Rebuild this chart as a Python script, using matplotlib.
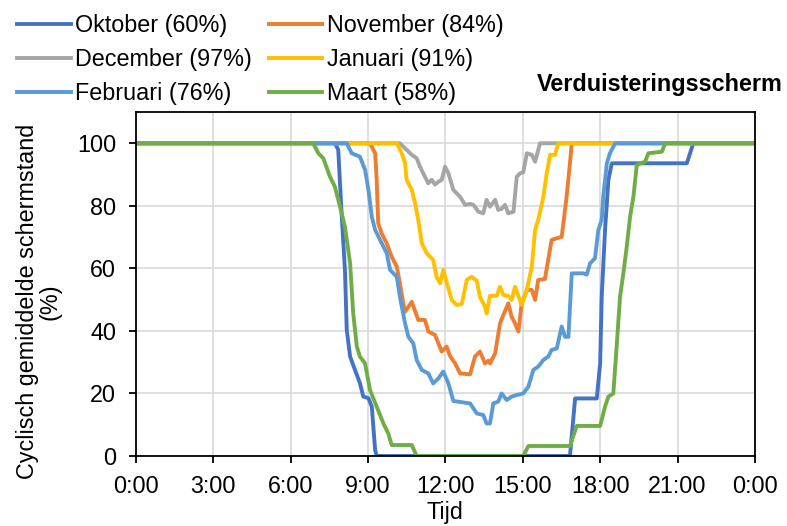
import matplotlib
matplotlib.use('Agg')
import matplotlib.pyplot as plt

plt.rcParams['font.family'] = ['Liberation Sans', 'DejaVu Sans']

# tijd in uren, waarde in %
oktober_t = [0, 7.72, 7.85, 7.98, 8.11, 8.18, 8.31, 8.5, 8.69, 8.82, 9.02, 9.15, 9.28, 9.34,
             16.83, 17.03, 17.87, 18.0, 18.06, 18.19, 18.32, 18.45, 21.36, 21.61, 24]
oktober_v = [100, 100, 97.9, 77.6, 59.5, 40.3, 31.8, 27.5, 23.3, 19, 18.5, 15.8, 1.9, 0,
             0, 18.4, 18.4, 29.6, 50.9, 72.3, 88.3, 93.6, 93.6, 100, 100]

november_t = [0, 9.08, 9.28, 9.34, 9.4, 9.53, 9.73, 9.92, 10.12, 10.24, 10.37, 10.44, 10.7, 10.95,
              11.21, 11.34, 11.6, 11.86, 12.05, 12.18, 12.38, 12.57, 12.96, 13.15, 13.34, 13.54,
              13.67, 13.73, 13.93, 14.12, 14.25, 14.44, 14.57, 14.7, 14.83, 14.96, 15.16, 15.35,
              15.48, 15.6, 15.86, 16.12, 16.51, 16.7, 16.83, 16.9, 24]
november_v = [100, 100, 96.8, 88.3, 74.4, 71.2, 68, 63.7, 60.5, 55.2, 48.8, 46.1, 49.3, 43.5,
              43.5, 39.8, 38.7, 33.4, 35, 32, 29.6, 26.4, 26.1, 31.8, 33.4, 29.6,
              30.5, 29.6, 32.8, 42.4, 45.1, 48.8, 44.5, 42.4, 39.8, 48.8, 53.1, 53.1,
              49.9, 56.3, 56.6, 69.1, 70.1, 82.9, 93.6, 100, 100]

december_t = [0, 10.24, 10.5, 10.7, 10.89, 11.02, 11.21, 11.34, 11.47, 11.6, 11.73, 11.86, 11.99,
              12.12, 12.31, 12.57, 12.77, 12.96, 13.09, 13.28, 13.47, 13.6, 13.73, 13.93, 14.05,
              14.18, 14.31, 14.44, 14.64, 14.77, 14.9, 15.02, 15.16, 15.35, 15.48, 15.67, 24]
december_v = [100, 100, 97.9, 96.3, 95.2, 92.5, 89.3, 87.2, 88.3, 86.8, 87.7, 88.3, 92.5,
              90.4, 85.1, 82.9, 80.3, 80.6, 80.3, 78.1, 77.6, 81.9, 79.7, 81.9, 78.7,
              79.0, 80.3, 77.6, 78.1, 89.3, 90.4, 90.7, 96.8, 96.3, 94.1, 100, 100]

januari_t = [0, 10.12, 10.31, 10.44, 10.5, 10.7, 10.83, 10.95, 11.09, 11.28, 11.53, 11.66, 11.8,
             11.92, 12.05, 12.25, 12.44, 12.64, 12.83, 13.02, 13.22, 13.34, 13.54, 13.6, 13.73,
             13.99, 14.12, 14.25, 14.44, 14.57, 14.7, 14.83, 14.96, 15.16, 15.35, 15.48, 15.6,
             15.8, 15.93, 16.06, 16.25, 16.38, 24]
januari_v = [100, 100, 96.8, 93.6, 88.3, 85.1, 80.8, 75.5, 68, 64.8, 62.7, 57.3, 55.2,
             59.5, 55.5, 49.9, 48.3, 48.6, 56.3, 57.3, 56.0, 50.9, 47.7, 45.6, 51.2,
             51.2, 54.1, 51.5, 51.2, 49.9, 54.1, 51.2, 48.3, 53.1, 60.5, 72.3, 75.5,
             82.9, 90.4, 96.3, 96.3, 100, 100]

februari_t = [0, 8.18, 8.37, 8.69, 8.89, 9.02, 9.15, 9.28, 9.47, 9.73, 9.86, 10.12, 10.24, 10.44,
              10.57, 10.76, 10.89, 11.09, 11.34, 11.53, 11.73, 11.92, 12.12, 12.31, 12.96, 13.22,
              13.47, 13.6, 13.73, 13.86, 14.05, 14.18, 14.38, 14.57, 14.77, 15.02, 15.22, 15.41,
              15.6, 15.8, 15.99, 16.12, 16.32, 16.51, 16.64, 16.77, 16.9, 17.35, 17.48, 17.61,
              17.8, 17.93, 18.06, 18.12, 18.26, 18.38, 18.58, 24]
februari_v = [100, 100, 96.8, 95.7, 91.5, 85.1, 76.5, 72.3, 69.1, 64.8, 59.5, 57.3, 50.9, 42.4,
              38.1, 36, 30.7, 27.5, 26.4, 23.2, 24.8, 27, 23.2, 17.6, 16.8, 13.6,
              13.1, 10.4, 10.4, 16.8, 17.4, 20, 17.9, 19, 19.5, 20, 22.2, 27.5,
              28.6, 30.7, 31.8, 33.9, 34.4, 41.4, 38.1, 38.1, 58.4, 58.4, 58.0, 61.6,
              63.2, 72.3, 75.5, 82.9, 93.6, 96.8, 100, 100]

maart_t = [0, 6.88, 7.08, 7.27, 7.53, 7.72, 7.92, 8.11, 8.31, 8.43, 8.57, 8.69, 8.89, 9.08, 9.34,
           9.6, 9.79, 9.92, 10.7, 10.89, 15.02, 15.22, 16.83, 17.09, 18.0, 18.19, 18.32, 18.51,
           18.64, 18.77, 18.9, 19.03, 19.16, 19.29, 19.42, 19.74, 19.87, 20.39, 20.52, 24]
maart_v = [100, 100, 96.8, 95.2, 89.3, 86.1, 79.7, 73.3, 61.6, 45.6, 35, 31.8, 29.6, 21.1, 15.8,
           10.4, 7.2, 3.5, 3.5, 0, 0, 3.2, 3.2, 9.6, 9.6, 15.8, 19, 20,
           35, 50.9, 58.4, 66.9, 76.5, 82.9, 93.1, 94.1, 96.8, 97.3, 100, 100]

labels = ['Oktober (60%)', 'November (84%)', 'December (97%)',
          'Januari (91%)', 'Februari (76%)', 'Maart (58%)']
colors = ['#4472C4', '#ED7D31', '#A5A5A5', '#FFC000', '#5B9BD5', '#70AD47']
xtick_pos = [0, 3, 6, 9, 12, 15, 18, 21, 24]
xtick_labels = ['0:00', '3:00', '6:00', '9:00', '12:00', '15:00', '18:00', '21:00', '0:00']

series = [(oktober_t, oktober_v), (november_t, november_v), (december_t, december_v),
          (januari_t, januari_v), (februari_t, februari_v), (maart_t, maart_v)]

fs = 16.8
fig = plt.figure(figsize=(7.87, 5.26), dpi=100)
ax = fig.add_axes([0.1724, 0.1331, 0.7869, 0.654])

handles = []
for (t, v), lab, c in zip(series, labels, colors):
    h, = ax.plot(t, v, color=c, lw=2.8, label=lab, solid_joinstyle='round')
    handles.append(h)

ax.set_xlim(0, 24)
ax.set_ylim(0, 110)
ax.set_xticks(xtick_pos)
ax.set_xticklabels(xtick_labels)
ax.set_yticks([0, 20, 40, 60, 80, 100])
ax.grid(True, color='#D9D9D9', lw=1.2)
ax.set_axisbelow(True)
for s in ax.spines.values():
    s.set_color('black')
    s.set_linewidth(1.3)
ax.tick_params(axis='both', labelsize=fs, length=5, width=1.3, color='black')
ax.tick_params(axis='y', pad=9)
ax.tick_params(axis='x', pad=9)

ax.set_xlabel('Tijd', fontsize=fs, labelpad=2)
ax.set_ylabel('Cyclisch gemiddelde schermstand\n(%)', fontsize=fs, linespacing=1.0)
ax.yaxis.set_label_coords(-0.119, 0.45)

# legenda in rijen: matplotlib vult per kolom, dus volgorde omzetten
order = [0, 2, 4, 1, 3, 5]
fig.legend([handles[i] for i in order], [labels[i] for i in order],
           loc='upper left', bbox_to_anchor=(17 / 787, 1 - 14 / 526), ncol=2,
           frameon=False, fontsize=fs, handlelength=2.3, handletextpad=0.2,
           columnspacing=0.7, labelspacing=0.47, borderpad=0, borderaxespad=0)

fig.text(783 / 787, 1 - 84 / 526, 'Verduisteringsscherm', ha='right', va='center',
         fontsize=fs, fontweight='bold')

fig.savefig('out.png', dpi=100)
